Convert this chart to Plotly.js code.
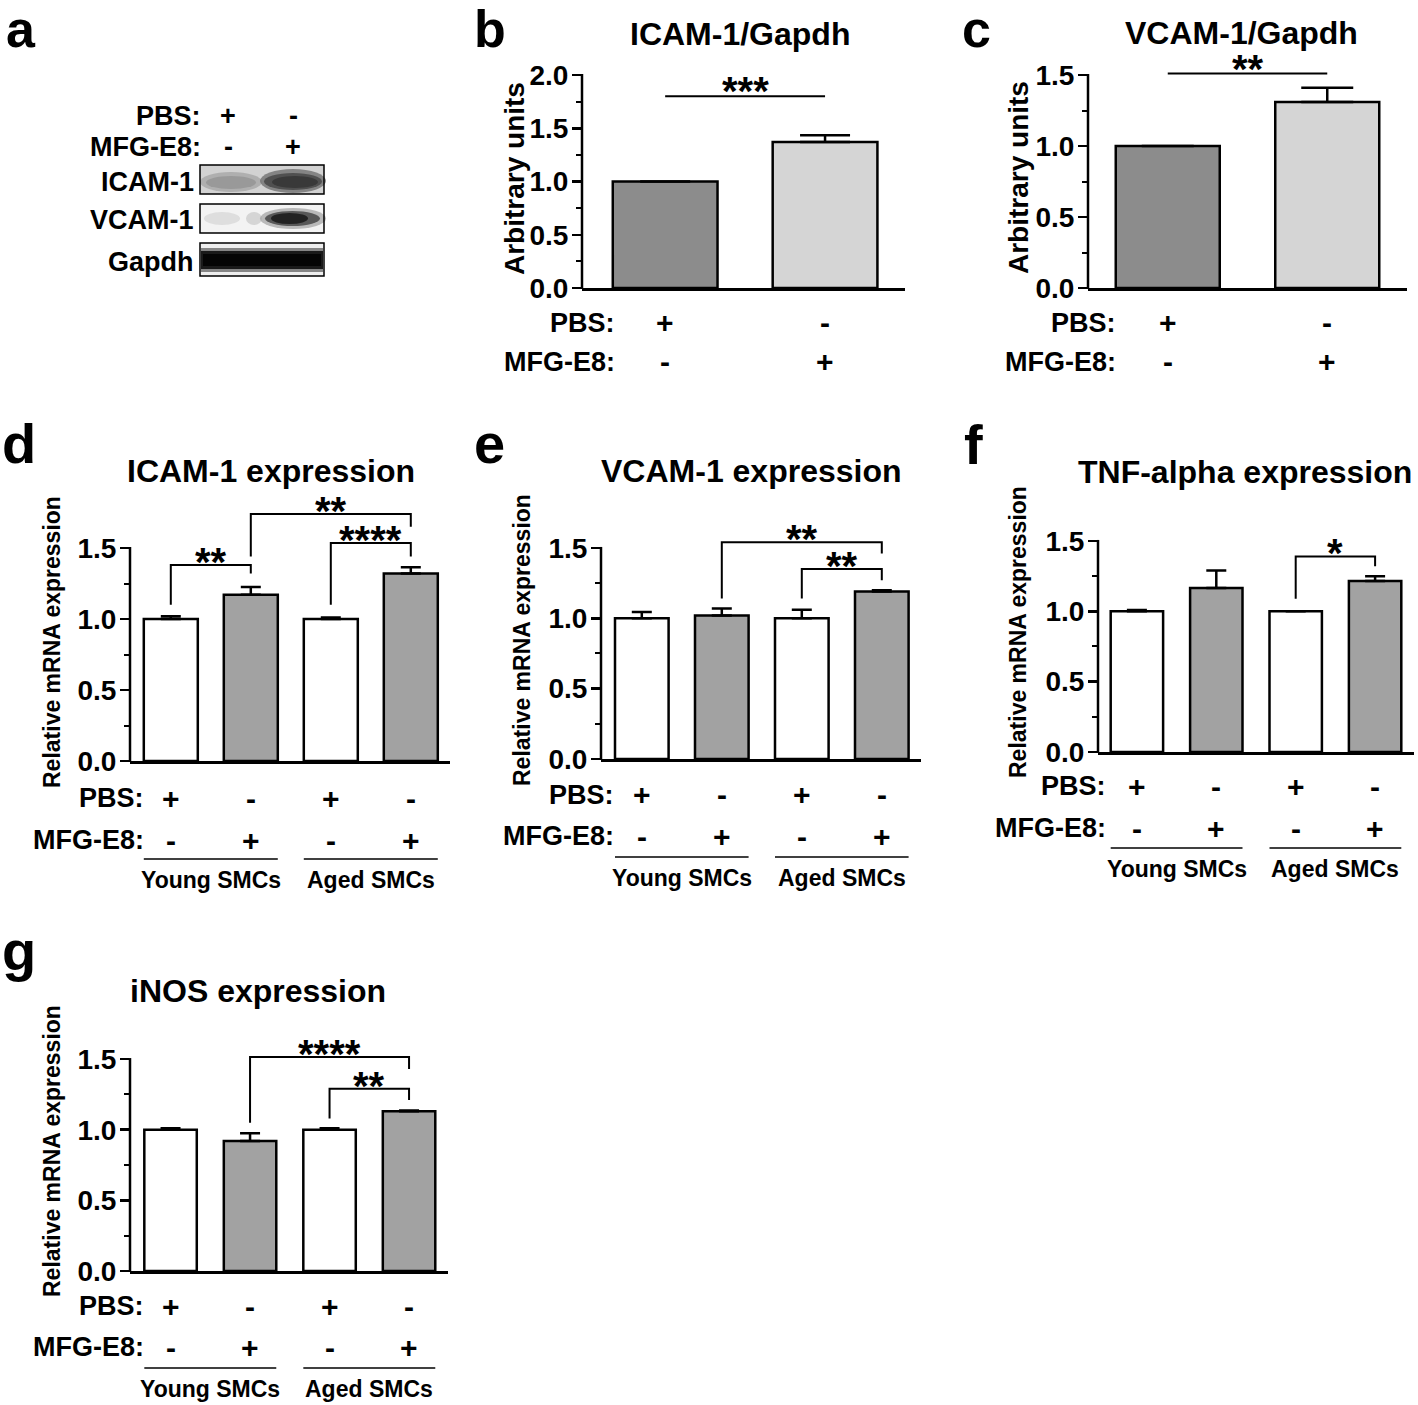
<!DOCTYPE html>
<html>
<head>
<meta charset="utf-8">
<script src="https://cdn.plot.ly/plotly-3.0.1.min.js"></script>
<style>html,body{margin:0;padding:0;background:#fff;}#chart{width:1418px;height:1405px;}</style>
</head>
<body>
<div id="chart"></div>
<script>
// ---------------- DATA ----------------
const blotPbsSigns = ['+', '-'];
const blotMfgSigns = ['-', '+'];
const blotLabels = ['ICAM-1', 'VCAM-1', 'Gapdh'];

const wbCategories = ['PBS', 'MFG-E8'];
const icamWbMean = [1.0, 1.37];
const icamWbSem = [0.0, 0.065];
const icamWbSig = [[0, 1, 1.80, '***']];
const vcamWbMean = [1.0, 1.31];
const vcamWbSem = [0.0, 0.10];
const vcamWbSig = [[0, 1, 1.51, '**']];

const mrnaCategories = ['Young PBS', 'Young MFG-E8', 'Aged PBS', 'Aged MFG-E8'];
const pbsSigns = ['+', '-', '+', '-'];
const mfgSigns = ['-', '+', '-', '+'];
const groupLabels = ['Young SMCs', 'Aged SMCs'];

const icamMean = [1.00, 1.17, 1.00, 1.32];
const icamSem = [0.02, 0.055, 0.01, 0.045];
// [from, to, bracket top, left leg end, right leg end, label]
const icamBrackets = [[0, 1, 1.38, 1.10, 1.32, '**'], [1, 3, 1.74, 1.44, 1.65, '**'], [2, 3, 1.535, 1.10, 1.44, '****']];

const vcamMean = [1.00, 1.02, 1.00, 1.19];
const vcamSem = [0.045, 0.05, 0.06, 0.01];
const vcamBrackets = [[1, 3, 1.54, 1.14, 1.46, '**'], [2, 3, 1.35, 1.14, 1.27, '**']];

const tnfMean = [1.00, 1.165, 1.00, 1.215];
const tnfSem = [0.01, 0.125, 0.0, 0.035];
const tnfBrackets = [[2, 3, 1.39, 1.09, 1.32, '*']];

const inosMean = [1.00, 0.92, 1.00, 1.13];
const inosSem = [0.01, 0.055, 0.01, 0.005];
const inosBrackets = [[1, 3, 1.515, 1.05, 1.43, '****'], [2, 3, 1.29, 1.08, 1.21, '**']];

// ---------------- LAYOUT HELPERS ----------------
const W = 1418, H = 1405;
const FONT = 'Liberation Sans, Arial, Helvetica, sans-serif';
const fx = p => p / W;
const fy = p => 1 - p / H;

const traces = [];
const annotations = [];
const shapes = [];
const layout = {
  width: W, height: H, margin: {l: 0, r: 0, t: 0, b: 0},
  paper_bgcolor: '#ffffff', plot_bgcolor: 'rgba(0,0,0,0)',
  showlegend: false, bargap: 0
};

function txt(text, xPx, yPx, size, opt) {
  opt = opt || {};
  annotations.push({
    text: text, xref: 'paper', yref: 'paper', x: fx(xPx), y: fy(yPx),
    xanchor: opt.xa || 'center', yanchor: 'middle', showarrow: false,
    textangle: opt.angle || 0,
    font: {family: opt.family || FONT, size: size, color: '#000', weight: opt.w || 'bold'}
  });
}

function panel(cfg) {
  const xa = cfg.id === 1 ? 'x' : 'x' + cfg.id;
  const ya = cfg.id === 1 ? 'y' : 'y' + cfg.id;
  const xKey = cfg.id === 1 ? 'xaxis' : 'xaxis' + cfg.id;
  const yKey = cfg.id === 1 ? 'yaxis' : 'yaxis' + cfg.id;
  const idx = cfg.mean.map((_, i) => i);

  layout[xKey] = {
    domain: [fx(cfg.xl), fx(cfg.xr)], range: cfg.xrange, anchor: ya,
    showline: true, linecolor: '#000', linewidth: 2.5, showgrid: false, zeroline: false,
    showticklabels: false, ticks: '', fixedrange: true
  };
  const topPx = cfg.y0 - cfg.ymax * cfg.ppu;
  layout[yKey] = {
    domain: [fy(cfg.y0), fy(topPx)], range: [0, cfg.ymax], anchor: xa,
    showline: false, showgrid: false, zeroline: false,
    tickmode: 'array', tickvals: cfg.tickvals, ticktext: cfg.tickvals.map(v => v.toFixed(1)),
    ticks: 'outside', ticklen: 9, tickwidth: 2.5, tickcolor: '#000',
    ticklabelstandoff: -2,
    minor: {tickmode: 'array', tickvals: cfg.minor, ticks: 'outside', ticklen: 5, tickwidth: 2, tickcolor: '#000'},
    tickfont: {family: FONT, size: 28, color: '#000', weight: 'bold'},
    fixedrange: true
  };
  const lastTick = cfg.tickvals[cfg.tickvals.length - 1];
  shapes.push({type: 'line', xref: 'paper', yref: 'paper', x0: fx(cfg.xl), x1: fx(cfg.xl),
    y0: fy(cfg.y0 + 1), y1: fy(cfg.y0 - lastTick * cfg.ppu - 1), line: {color: '#000', width: 2.5}});

  traces.push({
    type: 'bar', x: idx, y: cfg.mean, width: idx.map(() => cfg.barw),
    xaxis: xa, yaxis: ya, hoverinfo: 'skip',
    marker: {color: cfg.colors, line: {color: '#000', width: 2.5}},
    error_y: {type: 'data', symmetric: false, array: cfg.sem, arrayminus: cfg.sem.map(() => 0),
      color: '#000', thickness: 2.5, width: cfg.capw}
  });

  (cfg.brackets || []).forEach(b => {
    traces.push({type: 'scatter', mode: 'lines', x: [b[0], b[0], b[1], b[1]], y: [b[3], b[2], b[2], b[4]],
      xaxis: xa, yaxis: ya, hoverinfo: 'skip', line: {color: '#000', width: 2}});
    annotations.push({text: b[5], xref: xa, yref: ya, x: (b[0] + b[1]) / 2, y: b[2], xanchor: 'center', yanchor: 'middle',
      yshift: 3, showarrow: false, font: {family: FONT, size: 40, color: '#000', weight: 'bold'}});
  });
  (cfg.sigLines || []).forEach(s => {
    traces.push({type: 'scatter', mode: 'lines', x: [s[0], s[1]], y: [s[2], s[2]],
      xaxis: xa, yaxis: ya, hoverinfo: 'skip', line: {color: '#000', width: 2}});
    annotations.push({text: s[3], xref: xa, yref: ya, x: (s[0] + s[1]) / 2, y: s[2], xanchor: 'center', yanchor: 'middle',
      yshift: 5, showarrow: false, font: {family: FONT, size: 40, color: '#000', weight: 'bold'}});
  });

  txt('PBS:', cfg.rowRight, cfg.pbsY, 27, {xa: 'right'});
  txt('MFG-E8:', cfg.rowRight, cfg.mfgY, 27, {xa: 'right'});
  cfg.pbs.forEach((s, i) => annotations.push({text: s, xref: xa, yref: 'paper', x: i, y: fy(cfg.pbsY),
    xanchor: 'center', yanchor: 'middle', showarrow: false, font: {family: FONT, size: 30, color: '#000', weight: 'bold'}}));
  cfg.mfg.forEach((s, i) => annotations.push({text: s, xref: xa, yref: 'paper', x: i, y: fy(cfg.mfgY),
    xanchor: 'center', yanchor: 'middle', showarrow: false, font: {family: FONT, size: 30, color: '#000', weight: 'bold'}}));

  if (cfg.groups) {
    cfg.groups.forEach((g, k) => {
      const a = 2 * k, b = 2 * k + 1;
      shapes.push({type: 'line', xref: xa, yref: 'paper', x0: a - cfg.barw / 2, x1: b + cfg.barw / 2,
        y0: fy(cfg.groupLineY), y1: fy(cfg.groupLineY), line: {color: '#000', width: 1.5}});
      annotations.push({text: g, xref: xa, yref: 'paper', x: (a + b) / 2, y: fy(cfg.groupY),
        xanchor: 'center', yanchor: 'middle', showarrow: false,
        font: {family: FONT, size: 23, color: '#000', weight: 'bold'}});
    });
  }

  txt(cfg.title, cfg.titleX, cfg.titleY, 32);
  txt(cfg.ytitle, cfg.ytX, cfg.ytY, cfg.ytSize, {angle: -90, w: cfg.ytWeight});
  txt(cfg.letter, cfg.letterX, cfg.letterY, cfg.letterSize || 56, {xa: 'left'});
}

// ---------------- PANELS ----------------
panel({id: 1, xl: 582, xr: 905, xrange: [-0.52, 1.5], y0: 288, ppu: 106.5, ymax: 2.2,
  tickvals: [0, 0.5, 1.0, 1.5, 2.0], minor: [0.25, 0.75, 1.25, 1.75],
  mean: icamWbMean, sem: icamWbSem, colors: ['#8c8c8c', '#d5d5d5'], barw: 0.655, capw: 25,
  sigLines: icamWbSig, pbs: blotPbsSigns, mfg: blotMfgSigns, rowRight: 617, pbsY: 323, mfgY: 362,
  title: 'ICAM-1/Gapdh', titleX: 740, titleY: 34, ytitle: 'Arbitrary units', ytX: 515, ytY: 179, ytSize: 28, ytWeight: 'bold',
  letter: 'b', letterX: 472, letterY: 29, letterSize: 52});

panel({id: 2, xl: 1088, xr: 1407, xrange: [-0.5, 1.5], y0: 288, ppu: 142, ymax: 1.75,
  tickvals: [0, 0.5, 1.0, 1.5], minor: [0.25, 0.75, 1.25],
  mean: vcamWbMean, sem: vcamWbSem, colors: ['#8c8c8c', '#d5d5d5'], barw: 0.652, capw: 26,
  sigLines: vcamWbSig, pbs: blotPbsSigns, mfg: blotMfgSigns, rowRight: 1118, pbsY: 323, mfgY: 362,
  title: 'VCAM-1/Gapdh', titleX: 1241, titleY: 33, ytitle: 'Arbitrary units', ytX: 1019, ytY: 178, ytSize: 28, ytWeight: 'bold',
  letter: 'c', letterX: 960, letterY: 29, letterSize: 52});

panel({id: 3, xl: 130, xr: 450, xrange: [-0.51, 3.49], y0: 761, ppu: 142, ymax: 1.85,
  tickvals: [0, 0.5, 1.0, 1.5], minor: [0.25, 0.75, 1.25],
  mean: icamMean, sem: icamSem, colors: ['#ffffff', '#a2a2a2', '#ffffff', '#a2a2a2'], barw: 0.675, capw: 10,
  brackets: icamBrackets, pbs: pbsSigns, mfg: mfgSigns, rowRight: 146, pbsY: 798, mfgY: 840,
  groups: groupLabels, groupLineY: 859, groupY: 880,
  title: 'ICAM-1 expression', titleX: 271, titleY: 471, ytitle: 'Relative mRNA expression', ytX: 52, ytY: 642, ytSize: 23, ytWeight: 'bold',
  letter: 'd', letterX: 0, letterY: 443});

panel({id: 4, xl: 601, xr: 921, xrange: [-0.51, 3.49], y0: 759, ppu: 140.7, ymax: 1.85,
  tickvals: [0, 0.5, 1.0, 1.5], minor: [0.25, 0.75, 1.25],
  mean: vcamMean, sem: vcamSem, colors: ['#ffffff', '#a2a2a2', '#ffffff', '#a2a2a2'], barw: 0.67, capw: 10,
  brackets: vcamBrackets, pbs: pbsSigns, mfg: mfgSigns, rowRight: 616, pbsY: 795, mfgY: 836,
  groups: groupLabels, groupLineY: 857, groupY: 878,
  title: 'VCAM-1 expression', titleX: 752, titleY: 471, ytitle: 'Relative mRNA expression', ytX: 522, ytY: 640, ytSize: 23, ytWeight: 'bold',
  letter: 'e', letterX: 472, letterY: 443});

panel({id: 5, xl: 1098, xr: 1414, xrange: [-0.49, 3.49], y0: 752, ppu: 140.7, ymax: 1.6,
  tickvals: [0, 0.5, 1.0, 1.5], minor: [0.25, 0.75, 1.25],
  mean: tnfMean, sem: tnfSem, colors: ['#ffffff', '#a2a2a2', '#ffffff', '#a2a2a2'], barw: 0.66, capw: 10,
  brackets: tnfBrackets, pbs: pbsSigns, mfg: mfgSigns, rowRight: 1108, pbsY: 786, mfgY: 828,
  groups: groupLabels, groupLineY: 848, groupY: 869,
  title: 'TNF-alpha expression', titleX: 1245, titleY: 472, ytitle: 'Relative mRNA expression', ytX: 1018, ytY: 632, ytSize: 23, ytWeight: 'bold',
  letter: 'f', letterX: 962, letterY: 445});

panel({id: 6, xl: 130, xr: 448, xrange: [-0.51, 3.49], y0: 1271, ppu: 141.3, ymax: 1.6,
  tickvals: [0, 0.5, 1.0, 1.5], minor: [0.25, 0.75, 1.25],
  mean: inosMean, sem: inosSem, colors: ['#ffffff', '#a2a2a2', '#ffffff', '#a2a2a2'], barw: 0.66, capw: 10,
  brackets: inosBrackets, pbs: pbsSigns, mfg: mfgSigns, rowRight: 146, pbsY: 1306, mfgY: 1347,
  groups: groupLabels, groupLineY: 1368, groupY: 1389,
  title: 'iNOS expression', titleX: 258, titleY: 991, ytitle: 'Relative mRNA expression', ytX: 52, ytY: 1151, ytSize: 23, ytWeight: 'bold',
  letter: 'g', letterX: 0, letterY: 950});

// ---------------- PANEL a : western blot ----------------
txt('a', 4, 29, 52, {xa: 'left'});
txt('PBS:', 203, 116, 27, {xa: 'right'});
txt('MFG-E8:', 203, 147, 27, {xa: 'right'});
const laneX = [228, 293];
blotPbsSigns.forEach((s, i) => txt(s, laneX[i], 116, 27));
blotMfgSigns.forEach((s, i) => txt(s, laneX[i], 147, 27));
const blotRowY = [182, 220, 262];
blotLabels.forEach((l, i) => txt(l, 196, blotRowY[i], 27, {xa: 'right'}));

function rect(x0, y0, x1, y1, fill, op, lw) {
  shapes.push({type: 'rect', xref: 'paper', yref: 'paper', x0: fx(x0), x1: fx(x1), y0: fy(y1), y1: fy(y0),
    fillcolor: fill, opacity: op === undefined ? 1 : op, line: {width: lw || 0, color: '#000'}, layer: 'above'});
}
function band(x0, y0, x1, y1, fill, op) {
  shapes.push({type: 'circle', xref: 'paper', yref: 'paper', x0: fx(x0), x1: fx(x1), y0: fy(y1), y1: fy(y0),
    fillcolor: fill, opacity: op, line: {width: 0}, layer: 'above'});
}
// ICAM-1 blot
rect(200, 165, 324, 194, '#d2d2d2', 1);
band(200, 172, 262, 192, '#a0a0a0', 0.7);
band(206, 176, 256, 189, '#8a8a8a', 0.6);
band(260, 169, 326, 193, '#707070', 0.8);
band(264, 173, 322, 190, '#444444', 0.8);
band(272, 176, 318, 188, '#2a2a2a', 0.6);
rect(200, 165, 324, 194, 'rgba(0,0,0,0)', 1, 1.5);
// VCAM-1 blot
rect(200, 204, 324, 233, '#f3f3f3', 1);
band(204, 212, 240, 225, '#d4d4d4', 0.7);
band(246, 212, 262, 225, '#c8c8c8', 0.7);
band(260, 208, 326, 229, '#9f9f9f', 0.7);
band(265, 211, 320, 226, '#404040', 0.8);
band(271, 213, 308, 224, '#151515', 0.8);
rect(200, 204, 324, 233, 'rgba(0,0,0,0)', 1, 1.5);
// Gapdh blot
rect(200, 243, 324, 276, '#eeeeee', 1);
rect(201, 248, 323, 272, '#6a6a6a', 0.8);
rect(201, 251, 323, 269, '#1a1a1a', 1);
rect(203, 254, 321, 266, '#050505', 1);
rect(200, 243, 324, 276, 'rgba(0,0,0,0)', 1, 1.5);

layout.annotations = annotations;
layout.shapes = shapes;

Plotly.newPlot('chart', traces, layout, {displayModeBar: false, staticPlot: true});
</script>
</body>
</html>
